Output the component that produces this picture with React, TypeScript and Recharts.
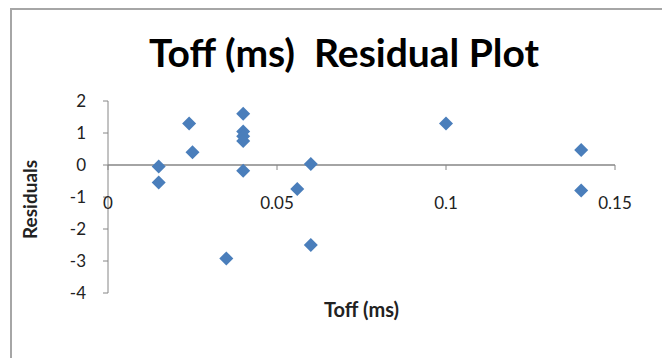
import React from 'react';
import {
  ScatterChart,
  Scatter,
  XAxis,
  YAxis,
  ReferenceLine,
} from 'recharts';

const toffValues = [
  0.015, 0.015, 0.024, 0.025, 0.04, 0.04, 0.04, 0.04, 0.04,
  0.035, 0.056, 0.06, 0.06, 0.1, 0.14, 0.14,
];
const residualValues = [
  -0.05, -0.55, 1.3, 0.4, 1.6, 1.05, 0.9, 0.75, -0.18,
  -2.92, -0.75, 0.03, -2.5, 1.3, 0.47, -0.8,
];
const xTicks = [0, 0.05, 0.1, 0.15];
const yTicks = [-4, -3, -2, -1, 0, 1, 2];

const X_DOMAIN: [number, number] = [0, 0.15];
const Y_DOMAIN: [number, number] = [-4, 2];

const W = 662;
const H = 350;
const MARGIN = { top: 93, right: 55, bottom: 0, left: 0 };
const X_AXIS_H = 65;
const PLOT_H = H - MARGIN.top - MARGIN.bottom - X_AXIS_H;

const AXIS_COLOR = '#868686';
const MARKER = '#4a7ebb';
const FONT = "Lato, 'Open Sans', sans-serif";

const points = toffValues.map((x, i) => ({ x, y: residualValues[i] }));

// x axis crosses at y = 0, labels sit a bit below it like in Excel
const XTick = (props: any) => {
  const { x, y, payload } = props;
  const zeroY = y - (PLOT_H * (0 - Y_DOMAIN[0])) / (Y_DOMAIN[1] - Y_DOMAIN[0]);
  return (
    <g>
      <line x1={x} x2={x} y1={zeroY} y2={zeroY + 5} stroke={AXIS_COLOR} />
      <text
        x={x}
        y={zeroY + 44}
        textAnchor="middle"
        fontSize={17}
        fontFamily={FONT}
        fill="#222"
      >
        {payload.value}
      </text>
    </g>
  );
};

const Diamond = (props: any) => {
  const { cx, cy } = props;
  const r = 7;
  return (
    <polygon
      points={`${cx},${cy - r} ${cx + r},${cy} ${cx},${cy + r} ${cx - r},${cy}`}
      fill={MARKER}
    />
  );
};

export default function App() {
  return (
    <div style={{ position: 'relative', width: W, height: H, background: '#fff' }}>
      <div
        style={{
          position: 'absolute',
          left: 2,
          top: 0,
          width: W,
          height: H + 10,
          borderLeft: '2px solid #a6a6a6',
          borderTop: '2px solid #a6a6a6',
          boxSizing: 'border-box',
        }}
      />
      <div
        style={{
          position: 'absolute',
          left: 0,
          top: 22,
          width: 672,
          textAlign: 'center',
          fontFamily: FONT,
          fontWeight: 'bold',
          fontSize: 39,
          lineHeight: '44px',
          color: '#000',
          whiteSpace: 'pre',
        }}
      >
        {'Toff (ms)  Residual Plot'}
      </div>
      <ScatterChart width={W} height={H} margin={MARGIN} style={{ position: 'absolute', left: 0, top: 0 }}>
        <XAxis
          type="number"
          dataKey="x"
          domain={X_DOMAIN}
          ticks={xTicks}
          height={X_AXIS_H}
          axisLine={false}
          tickLine={false}
          tickSize={0}
          tickMargin={0}
          tick={<XTick />}
          interval={0}
          label={{
            value: 'Toff (ms)',
            position: 'insideTop',
            offset: 10,
            fontSize: 20,
            fontWeight: 'bold',
            fontFamily: FONT,
            fill: '#222',
          }}
        />
        <YAxis
          type="number"
          dataKey="y"
          domain={Y_DOMAIN}
          ticks={yTicks}
          width={100}
          interval={0}
          stroke={AXIS_COLOR}
          tickSize={5}
          tickMargin={17}
          tick={{ fontSize: 17, fontFamily: FONT, fill: '#222' }}
          label={{
            value: 'Residuals',
            angle: -90,
            position: 'insideLeft',
            offset: 22,
            dy: 42,
            fontSize: 19,
            fontWeight: 'bold',
            fontFamily: FONT,
            fill: '#222',
          }}
        />
        <ReferenceLine y={0} stroke={AXIS_COLOR} strokeWidth={1.5} ifOverflow="extendDomain" />
        <Scatter data={points} shape={<Diamond />} isAnimationActive={false} />
      </ScatterChart>
    </div>
  );
}
